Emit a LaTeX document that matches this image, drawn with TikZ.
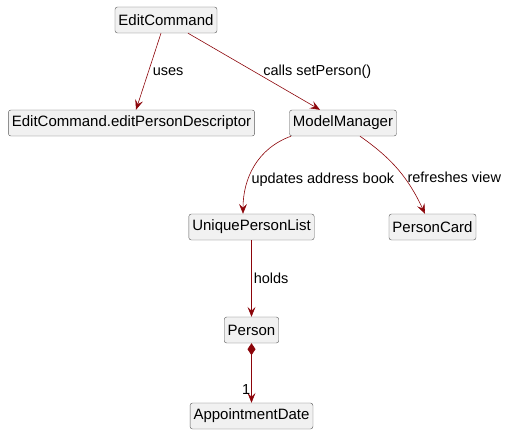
\documentclass[tikz,border=0pt]{standalone}
\usepackage{fontspec}
\setmainfont{Liberation Sans}
\usetikzlibrary{arrows.meta}
\definecolor{wirered}{RGB}{140,5,10}
\definecolor{boxfill}{RGB}{241,241,241}
\definecolor{boxline}{RGB}{90,90,90}

\begin{document}
\begin{tikzpicture}[x=1pt,y=-1pt,box/.style={rectangle,draw=boxline,fill=boxfill,rounded corners=2.5pt,inner xsep=3.5pt,inner ysep=0pt,minimum height=26pt,font=\fontsize{15}{17}\selectfont},wire/.style={draw=wirered,semithick,-{Stealth[length=10pt,width=8pt,inset=4pt]}},lbl/.style={inner sep=1pt,font=\fontsize{14.5}{16}\selectfont,text=black}]
  \useasboundingbox (0,0) rectangle (505,436);
  \node[box] (n1) at (166,20) {EditCommand};
  \node[box] (n2) at (131.5,123) {EditCommand.editPersonDescriptor};
  \node[box] (n3) at (343,123) {ModelManager};
  \node[box] (n4) at (251.5,227) {UniquePersonList};
  \node[box] (n5) at (432.5,227) {PersonCard};
  \node[box] (n6) at (251.5,330) {Person};
  \node[box] (n7) at (251.5,416) {AppointmentDate};
  \path[wire] (n1.south -| 161,0) -- node[lbl,pos=0.5,right=3pt] {uses} (n2.north -| 136,0);
  \path[wire] (n1.south -| 188,0) -- node[lbl,pos=0.5,right=8pt] {calls setPerson()} (n3.north -| 320,0);
  \path[wire] (n3.south -| 291,0) to[out=-160,in=90] node[lbl,pos=0.66,right=2pt] {updates address book} (n4.north -| 243,0);
  \path[wire] (n3.south -| 360,0) to[out=-35,in=115] node[lbl,pos=0.6,right=2pt] {refreshes view} (n5.north -| 425,0);
  \path[wire] (n4.south) -- node[lbl,pos=0.5,right=1pt] {holds} (n6.north);
  \path[draw=wirered,semithick,{Diamond[length=12pt,width=8pt,fill=wirered]}-{Stealth[length=10pt,width=8pt,inset=4pt]}] (n6.south) -- node[lbl,pos=0.78,left=0pt] {1} (n7.north);
\end{tikzpicture}
\end{document}
